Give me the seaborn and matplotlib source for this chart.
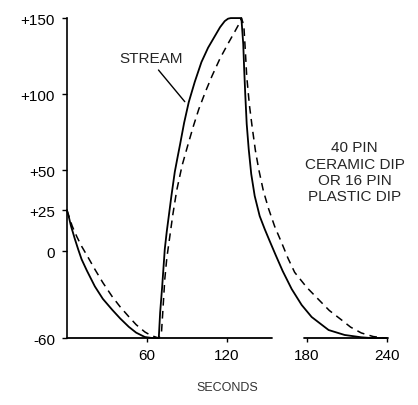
import numpy as np
import pandas as pd
import matplotlib
matplotlib.use("Agg")
import matplotlib.pyplot as plt
import seaborn as sns

# stream (solid) and package (dashed) temperature profiles
stream_t = [0, 1.5, 3, 6, 8.5, 11, 15, 21, 27, 34, 40, 46.5, 52, 58.5, 64,
            69, 70, 71.5, 73.5, 75, 76.5, 78.5, 81, 83, 85, 88, 91.5, 96, 101, 106,
            111, 115, 118.5, 121, 123, 131,
            132.4, 133.1, 133.9, 135, 136.5, 138.4, 141, 144.75, 148.5, 152.25,
            156.75, 162, 168.75, 176.25, 183.75, 196.5, 208.5, 221, 228, 240]
stream_temp = [25, 20.7, 15.5, 7.3, 1, -5.6, -13.5, -24.4, -33, -40.5, -46.5, -52.3,
               -56.3, -59.3, -60,
               -60, -42.6, -25, 1.2, 12, 21.3, 34, 48.8, 58, 67, 81, 94.7, 108, 121,
               130.5, 138, 144, 148, 149.6, 150, 150,
               132.9, 116.4, 100, 80.3, 63.8, 47.5, 33.8, 21.3, 13.4, 6.1,
               -2.8, -13.8, -26.2, -37.2, -45.5, -54.5, -57.9, -59.5, -60, -60]

dip_t = [0, 2, 4, 7.5, 11, 16, 21, 27, 34, 40, 46.5, 52, 58.5, 63, 67.5, 69,
         71, 72, 73.5, 75, 77, 79.5, 82.5, 86.5, 91, 95, 99, 104, 109, 115, 121.5,
         126, 130, 131,
         132, 133, 134, 135, 137, 139, 141.5, 144, 147.5, 151.5, 156, 161, 166,
         171, 180, 189, 197, 206, 213, 221, 230, 238.5]
dip_temp = [25, 20, 15.2, 8.7, 3, -4.5, -12.6, -21.8, -31.4, -38.5, -45.3, -50.8,
            -55.8, -58.2, -59.6, -60,
            -56.5, -42, -19.5, -5, 7.3, 22, 37.5, 53, 67, 79, 90, 101.5, 112, 123.5,
            134, 141, 147.4, 150,
            147.5, 142.8, 128, 111.8, 93, 79, 63, 50.6, 37, 25.6, 15, 5.5, -5,
            -14.7, -25, -33.5, -41, -47.4, -52.5, -56.5, -59, -60]

ytick_vals = [-60, 0, 25, 50, 100, 150]
ytick_labels = ['-60', '0', '+25', '+50', '+100', '+150']
xtick_vals = [60, 120, 180, 240]

# the original axis is not linear: spacing of the printed ticks
ytick_pos = [0, 87, 128, 168, 244, 320]

def fwd(v):
    return np.interp(v, ytick_vals, ytick_pos)

def inv(p):
    return np.interp(p, ytick_pos, ytick_vals)

sns.set_style("ticks")
plt.rcParams['font.family'] = ['Liberation Sans', 'DejaVu Sans']

stream = pd.DataFrame({'t': stream_t, 'temp': stream_temp})
dip = pd.DataFrame({'t': dip_t, 'temp': dip_temp})

fig = plt.figure(figsize=(4.18, 4.06), dpi=100)
ax = fig.add_axes([0.160, 0.165, 0.768, 0.788])
ax.set_yscale('function', functions=(fwd, inv))

sns.lineplot(data=stream, x='t', y='temp', sort=False, estimator=None, ax=ax,
             color='black', lw=1.3, clip_on=False)
sns.lineplot(data=dip, x='t', y='temp', sort=False, estimator=None, ax=ax,
             color='black', lw=1.1, clip_on=False)
ax.lines[-1].set_dashes((5, 3.5))

ax.set_xlim(0, 241)
ax.set_ylim(-60, 150)
ax.set_yticks(ytick_vals)
ax.set_yticklabels(ytick_labels)
ax.set_xticks(xtick_vals)
ax.set_xticklabels([str(v) for v in xtick_vals])
ax.tick_params(axis='y', length=3.5, width=1, pad=5, labelsize=11, colors='black')
ax.tick_params(axis='x', length=3, width=1, pad=4, labelsize=11, colors='black')
ax.minorticks_off()

sns.despine(ax=ax)
ax.spines['left'].set_linewidth(1.2)
ax.spines['left'].set_color('black')
# broken time axis
ax.spines['bottom'].set_visible(False)
for x0, x1 in [(0, 154), (178, 241)]:
    ax.plot([x0, x1], [-60, -60], color='black', lw=1.3, clip_on=False)

ax.set_xlabel('SECONDS', fontsize=9, labelpad=14, color='#333333')
ax.set_ylabel('')

ax.annotate('STREAM', xy=(88.5, 95), xytext=(63, 124), ha='center', va='center',
            fontsize=11, arrowprops=dict(arrowstyle='-', color='black', lw=1,
                                         relpos=(0.55, 0), shrinkA=2, shrinkB=0))
ax.text(216, 49, '40 PIN\nCERAMIC DIP\nOR 16 PIN\nPLASTIC DIP', ha='center',
        va='center', fontsize=11, linespacing=1.2, multialignment='center')

plt.savefig('out.png', dpi=100)
